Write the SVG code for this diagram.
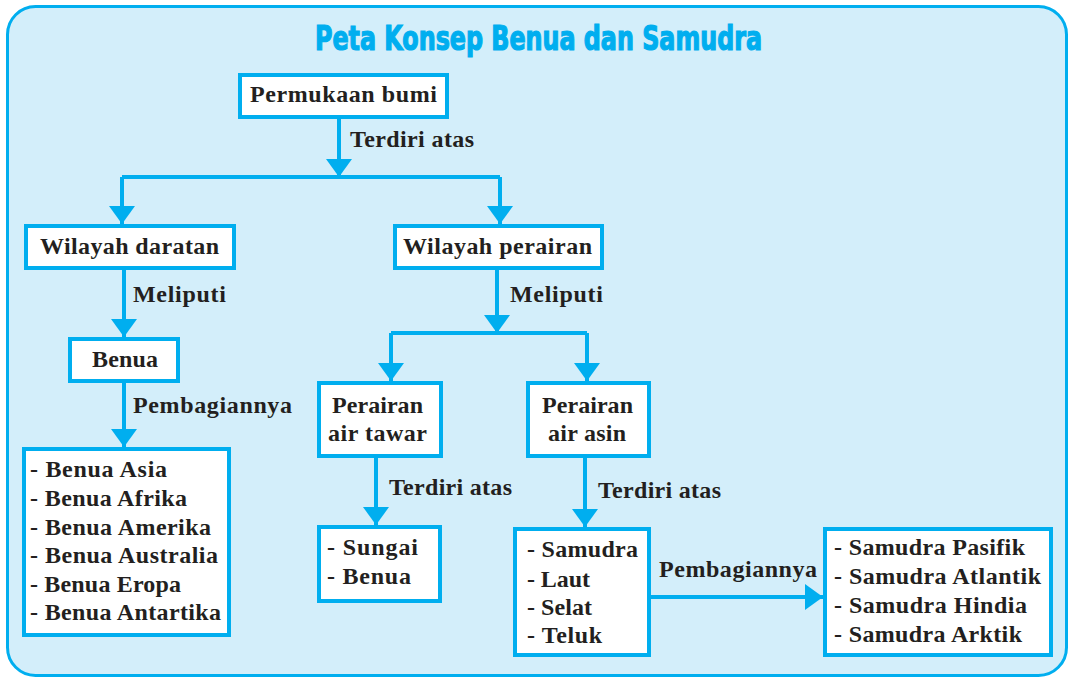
<svg xmlns="http://www.w3.org/2000/svg" width="1069" height="679" viewBox="0 0 1069 679">
<defs>
<style>
.box{fill:#ffffff;stroke:#00aeef;stroke-width:4}
.t{font-family:"Liberation Serif","DejaVu Serif",serif;font-weight:bold;font-size:24px;fill:#231f20}
.c{fill:none;stroke:#00aeef;stroke-width:4}
.title{font-family:"Liberation Sans Narrow","DejaVu Sans Condensed","Liberation Sans",sans-serif;font-weight:bold;font-size:33px;fill:#00aeef;stroke:#00aeef;stroke-width:1.2}
</style>
<marker id="ah" markerUnits="userSpaceOnUse" markerWidth="18" markerHeight="26" refX="18" refY="13" orient="auto" viewBox="0 0 18 26">
<path d="M0,0 L18,13 L0,26 Z" fill="#00aeef"/>
</marker>
</defs>
<rect x="7.5" y="6.5" width="1059" height="669" rx="28" ry="28" fill="#d3eefa" stroke="#00aeef" stroke-width="3"/>
<text class="title" x="315" y="50" textLength="447" lengthAdjust="spacingAndGlyphs">Peta Konsep Benua dan Samudra</text>

<g id="connectors">
<path class="c" d="M339,119 V177" marker-end="url(#ah)"/>
<path class="c" d="M122,177 H500"/>
<path class="c" d="M122,177 V224" marker-end="url(#ah)"/>
<path class="c" d="M500,177 V224" marker-end="url(#ah)"/>
<path class="c" d="M124,270 V337" marker-end="url(#ah)"/>
<path class="c" d="M124,383 V447" marker-end="url(#ah)"/>
<path class="c" d="M497,270 V333" marker-end="url(#ah)"/>
<path class="c" d="M391,333 H587"/>
<path class="c" d="M391,333 V381" marker-end="url(#ah)"/>
<path class="c" d="M587,333 V381" marker-end="url(#ah)"/>
<path class="c" d="M376,458 V525" marker-end="url(#ah)"/>
<path class="c" d="M585,458 V527" marker-end="url(#ah)"/>
<path class="c" d="M651,597 H823" marker-end="url(#ah)"/>
<text class="t" x="350" y="147" textLength="124">Terdiri atas</text>
<text class="t" x="133" y="302" textLength="93">Meliputi</text>
<text class="t" x="510" y="302" textLength="93">Meliputi</text>
<text class="t" x="133" y="413" textLength="159">Pembagiannya</text>
<text class="t" x="389" y="495" textLength="123">Terdiri atas</text>
<text class="t" x="598" y="498" textLength="123">Terdiri atas</text>
<text class="t" x="659" y="577" textLength="158">Pembagiannya</text>
</g>

<g id="permukaan-bumi">
<rect class="box" x="240" y="75" width="207" height="42"/>
<text class="t" x="250" y="102" textLength="187">Permukaan bumi</text>
</g>
<g id="wilayah-daratan">
<rect class="box" x="26" y="226" width="208" height="42"/>
<text class="t" x="40" y="254" textLength="179">Wilayah daratan</text>
</g>
<g id="wilayah-perairan">
<rect class="box" x="395" y="226" width="207" height="42"/>
<text class="t" x="403" y="254" textLength="189">Wilayah perairan</text>
</g>
<g id="benua">
<rect class="box" x="70" y="339" width="108" height="42"/>
<text class="t" x="92" y="367" textLength="66">Benua</text>
</g>
<g id="daftar-benua">
<rect class="box" x="24" y="449" width="205" height="186"/>
<text class="t" x="30" y="477" textLength="137">- Benua Asia</text>
<text class="t" x="30" y="506" textLength="157">- Benua Afrika</text>
<text class="t" x="30" y="535" textLength="181">- Benua Amerika</text>
<text class="t" x="30" y="563" textLength="188">- Benua Australia</text>
<text class="t" x="30" y="592" textLength="151">- Benua Eropa</text>
<text class="t" x="30" y="620" textLength="191">- Benua Antartika</text>
</g>
<g id="perairan-air-tawar">
<rect class="box" x="319" y="383" width="122" height="73"/>
<text class="t" x="332" y="413" textLength="91">Perairan</text>
<text class="t" x="328" y="441" textLength="99">air tawar</text>
</g>
<g id="perairan-air-asin">
<rect class="box" x="528" y="383" width="121" height="73"/>
<text class="t" x="542" y="413" textLength="91">Perairan</text>
<text class="t" x="548" y="441" textLength="78">air asin</text>
</g>
<g id="air-tawar-list">
<rect class="box" x="319" y="527" width="121" height="74"/>
<text class="t" x="327" y="555" textLength="91">- Sungai</text>
<text class="t" x="327" y="584" textLength="84">- Benua</text>
</g>
<g id="air-asin-list">
<rect class="box" x="515" y="529" width="134" height="126"/>
<text class="t" x="527" y="557" textLength="111">- Samudra</text>
<text class="t" x="527" y="587" textLength="63">- Laut</text>
<text class="t" x="527" y="615" textLength="65">- Selat</text>
<text class="t" x="527" y="643" textLength="75">- Teluk</text>
</g>
<g id="daftar-samudra">
<rect class="box" x="825" y="529" width="226" height="126"/>
<text class="t" x="834" y="555" textLength="191">- Samudra Pasifik</text>
<text class="t" x="834" y="584" textLength="207">- Samudra Atlantik</text>
<text class="t" x="834" y="613" textLength="193">- Samudra Hindia</text>
<text class="t" x="834" y="642" textLength="188">- Samudra Arktik</text>
</g>
</svg>
